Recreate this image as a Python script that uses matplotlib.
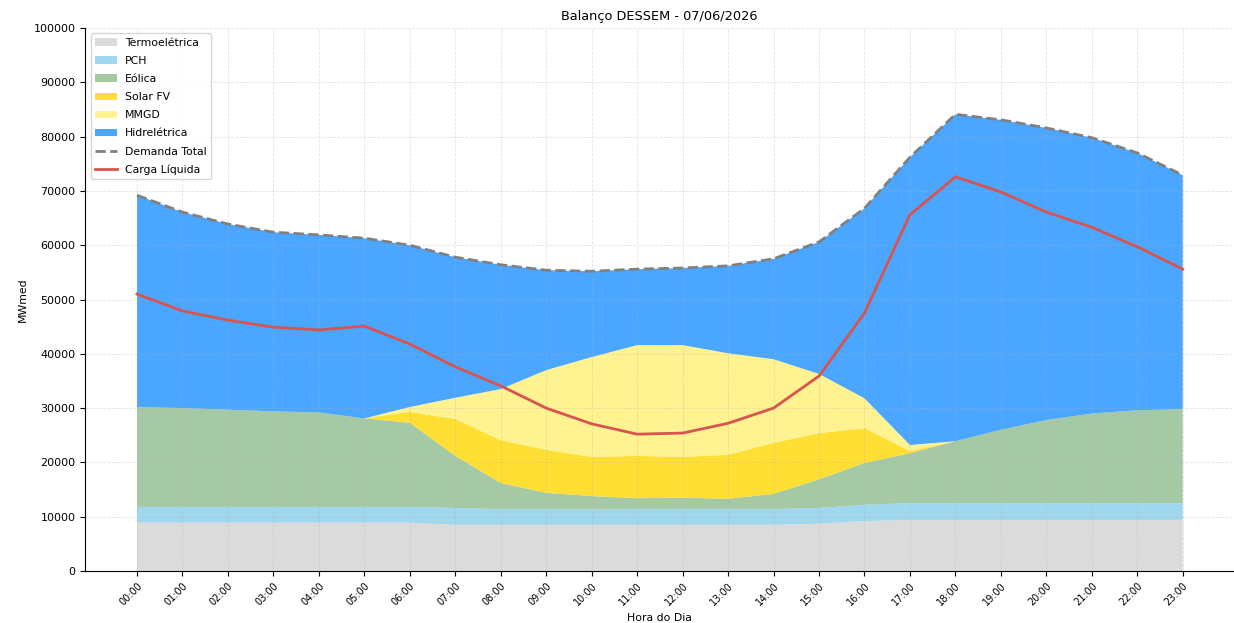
import numpy as np
import matplotlib
matplotlib.use('Agg')
import matplotlib.pyplot as plt

horas = ['%02d:00' % h for h in range(24)]

termo = [8900, 8900, 8900, 8900, 8900, 8900, 8900, 8500, 8500, 8500, 8500, 8500,
         8500, 8500, 8500, 8700, 9200, 9400, 9400, 9400, 9400, 9400, 9400, 9400]
pch = [2900, 2900, 2900, 2900, 2900, 2900, 2900, 3100, 2900, 2900, 2800, 2900,
       2900, 2900, 2900, 2900, 3000, 3100, 3100, 3100, 3100, 3100, 3100, 3100]
eolica = [18400, 18200, 17900, 17600, 17400, 16300, 15500, 9600, 4800, 3000, 2500, 2000,
          2100, 1900, 2800, 5300, 7700, 9200, 11400, 13500, 15300, 16500, 17100, 17300]
solar = [0, 0, 0, 0, 0, 0, 2000, 6800, 7900, 7900, 7200, 7800,
         7500, 8100, 9400, 8500, 6400, 400, 0, 0, 0, 0, 0, 0]
mmgd = [0, 0, 0, 0, 0, 0, 900, 3900, 9400, 14700, 18400, 20400,
        20600, 18700, 15400, 10900, 5500, 1100, 0, 0, 0, 0, 0, 0]
demanda = [69200, 66100, 63900, 62400, 61900, 61300, 60000, 57800, 56400, 55400, 55200, 55600,
           55800, 56200, 57500, 60600, 66800, 76200, 84100, 83100, 81600, 79800, 77000, 72900]
carga = [51000, 47900, 46200, 44900, 44400, 45100, 41800, 37600, 34100, 30000, 27100, 25200,
         25400, 27200, 30000, 35900, 47500, 65600, 72600, 69800, 66100, 63300, 59700, 55600]

x = np.arange(len(horas))
outras = np.array(termo) + np.array(pch) + np.array(eolica) + np.array(solar) + np.array(mmgd)
hidro = np.array(demanda) - outras

fig = plt.figure(figsize=(12.34, 6.23), dpi=100)
ax = fig.add_axes([0.069, 0.0835, 0.93, 0.8715])

ax.stackplot(x, termo, pch, eolica, solar, mmgd, hidro,
             labels=['Termoelétrica', 'PCH', 'Eólica', 'Solar FV', 'MMGD', 'Hidrelétrica'],
             colors=['#d3d3d3', '#87ceeb', '#8fbc8f', '#ffd700', '#fff176', '#1e90ff'],
             alpha=0.8)
ax.plot(x, demanda, color='gray', linestyle='--', linewidth=2, label='Demanda Total')
ax.plot(x, carga, color='#d9534f', linewidth=2, label='Carga Líquida')

ax.set_xticks(x)
ax.set_xticklabels(horas, rotation=45, ha='right', rotation_mode='anchor', fontsize=7)
ax.set_yticks(np.arange(0, 100001, 10000))
ax.tick_params(axis='y', labelsize=8)
ax.set_xlim(-1.14, 24.1)
ax.set_ylim(0, 100000)
ax.set_title('Balanço DESSEM - 07/06/2026', fontsize=9.3)
ax.set_xlabel('Hora do Dia', fontsize=7.8)
ax.set_ylabel('MWmed', fontsize=7.8)
ax.grid(True, linestyle='--', linewidth=0.6, alpha=0.35)
ax.spines['top'].set_visible(False)
ax.spines['right'].set_visible(False)
ax.legend(loc='upper left', fontsize=7.8, labelspacing=0.75)

plt.savefig('out.png')
